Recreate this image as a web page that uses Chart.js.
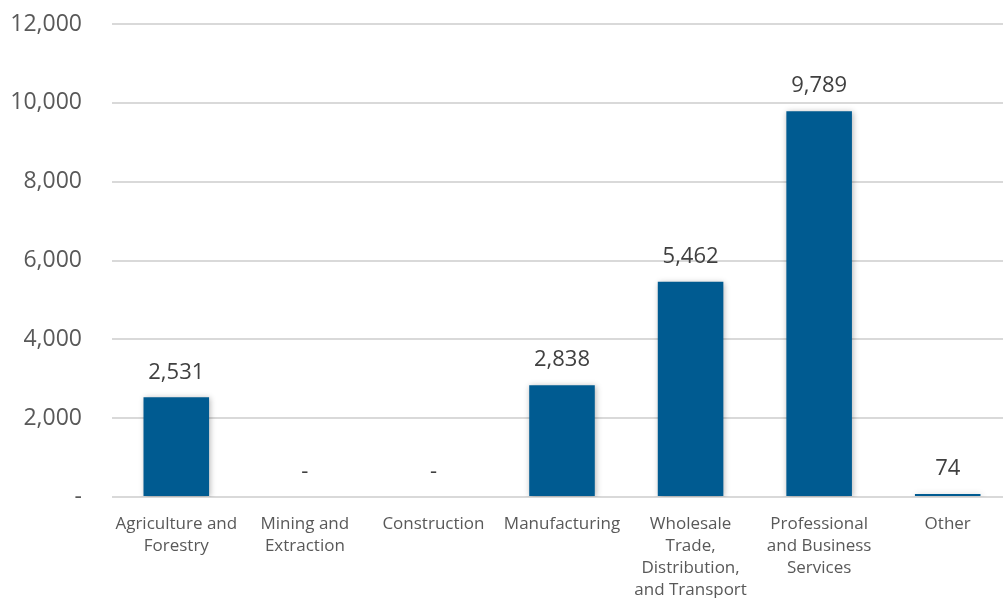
<!DOCTYPE html>
<html lang="en">
<head>
  <meta charset="UTF-8">
  <title>Employment by Industry</title>
  <script src="https://cdn.jsdelivr.net/npm/chart.js"></script>
  <style>
    html, body { margin: 0; padding: 0; background: #fff; overflow: hidden; }
    /* plot area runs slightly past the right edge in the original */
    #wrap { width: 1012px; height: 598px; }
  </style>
</head>
<body>
  <div id="wrap"><canvas id="chart"></canvas></div>
  <script>
    const categories = [
      ['Agriculture and', 'Forestry'],
      ['Mining and', 'Extraction'],
      ['Construction'],
      ['Manufacturing'],
      ['Wholesale', 'Trade,', 'Distribution,', 'and Transport'],
      ['Professional', 'and Business', 'Services'],
      ['Other']
    ];
    const values = [2531, 0, 0, 2838, 5462, 9789, 74];
    const yTicks = [0, 2000, 4000, 6000, 8000, 10000, 12000];

    const fontFamily = '"Open Sans", sans-serif';

    // labels above each bar, "-" when value is zero
    const valueLabels = {
      id: 'valueLabels',
      afterDatasetsDraw(chart) {
        const ctx = chart.ctx;
        const meta = chart.getDatasetMeta(0);
        ctx.save();
        ctx.font = '500 22px ' + fontFamily;
        ctx.fillStyle = '#404040';
        ctx.textAlign = 'center';
        ctx.textBaseline = 'middle';
        meta.data.forEach((bar, i) => {
          const v = values[i];
          const txt = v === 0 ? '-' : v.toLocaleString('en-US');
          ctx.fillText(txt, bar.x, bar.y - 25);
        });
        ctx.restore();
      }
    };

    // soft shadow on bars
    const barShadow = {
      id: 'barShadow',
      beforeDatasetDraw(chart) {
        const ctx = chart.ctx;
        ctx.save();
        ctx.shadowColor = 'rgba(0,0,0,0.3)';
        ctx.shadowBlur = 6;
        ctx.shadowOffsetX = 1;
        ctx.shadowOffsetY = 1;
      },
      afterDatasetDraw(chart) {
        chart.ctx.restore();
      }
    };

    new Chart(document.getElementById('chart'), {
      type: 'bar',
      data: {
        labels: categories,
        datasets: [{
          data: values,
          backgroundColor: '#005b91',
          barPercentage: 0.51,
          categoryPercentage: 1
        }]
      },
      options: {
        responsive: true,
        maintainAspectRatio: false,
        animation: false,
        layout: { padding: { top: 24, right: 0, bottom: 0, left: 0 } },
        plugins: {
          legend: { display: false },
          tooltip: { enabled: false }
        },
        scales: {
          x: {
            grid: { display: false },
            border: { display: false },
            ticks: {
              color: '#595959',
              font: { family: fontFamily, size: 17, weight: '500', lineHeight: 1.3 },
              maxRotation: 0,
              autoSkip: false,
              padding: 8
            },
            afterFit(scale) { scale.height = 101; }
          },
          y: {
            min: 0,
            max: 12000,
            afterBuildTicks(scale) {
              scale.ticks = yTicks.map(v => ({ value: v }));
            },
            grid: { color: '#d9d9d9', lineWidth: 2, drawTicks: false },
            border: { display: false },
            ticks: {
              color: '#595959',
              font: { family: fontFamily, size: 23, weight: '500' },
              padding: 30,
              callback: v => v === 0 ? '-' : v.toLocaleString('en-US')
            },
            afterFit(scale) {
              scale.width = 112;
              scale.paddingTop = 0;
              scale.paddingBottom = 0;
            }
          }
        }
      },
      plugins: [barShadow, valueLabels]
    });
  </script>
</body>
</html>
